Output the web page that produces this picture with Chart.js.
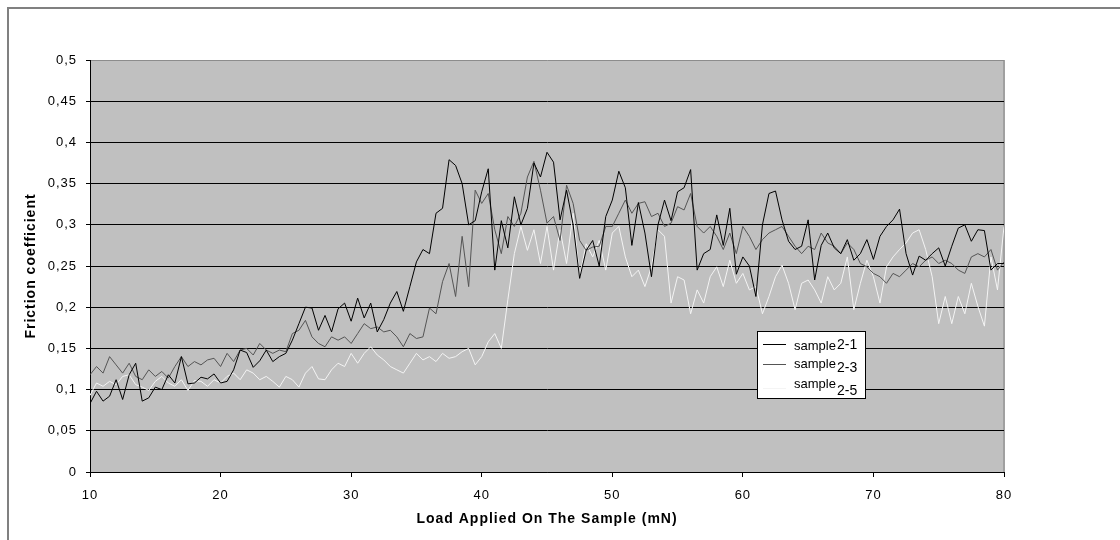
<!DOCTYPE html>
<html><head><meta charset="utf-8">
<script src="https://cdn.jsdelivr.net/npm/chart.js@4/dist/chart.umd.min.js"></script>
<style>html,body{margin:0;padding:0;background:#fff;}canvas{display:block;}</style>
</head><body>
<canvas id="c" width="1120" height="540"></canvas>
<script>
// Load applied (mN)
const loads = [
 10,10.5,11,11.5,12,12.5,13,13.5,14,14.5,
 15,15.5,16,16.5,17,17.5,18,18.5,19,19.5,
 20,20.5,21,21.5,22,22.5,23,23.5,24,24.5,
 25,25.5,26,26.5,27,27.5,28,28.5,29,29.5,
 30,30.5,31,31.5,32,32.5,33,33.5,34,34.5,
 35,35.5,36,36.5,37,37.5,38,38.5,39,39.5,
 40,40.5,41,41.5,42,42.5,43,43.5,44,44.5,
 45,45.5,46,46.5,47,47.5,48,48.5,49,49.5,
 50,50.5,51,51.5,52,52.5,53,53.5,54,54.5,
 55,55.5,56,56.5,57,57.5,58,58.5,59,59.5,
 60,60.5,61,61.5,62,62.5,63,63.5,64,64.5,
 65,65.5,66,66.5,67,67.5,68,68.5,69,69.5,
 70,70.5,71,71.5,72,72.5,73,73.5,74,74.5,
 75,75.5,76,76.5,77,77.5,78,78.5,79,79.5,
 80
];
const sample21 = [
 0.083,0.098,0.086,0.092,0.112,0.088,0.118,0.132,0.086,0.090,
 0.103,0.100,0.118,0.108,0.140,0.107,0.108,0.115,0.113,0.119,
 0.108,0.110,0.124,0.148,0.145,0.127,0.135,0.148,0.134,0.140,
 0.144,0.160,0.180,0.200,0.199,0.172,0.190,0.170,0.198,0.205,
 0.183,0.211,0.187,0.205,0.170,0.185,0.205,0.219,0.195,0.225,
 0.255,0.270,0.265,0.314,0.320,0.379,0.372,0.350,0.300,0.305,
 0.340,0.368,0.245,0.305,0.272,0.334,0.300,0.320,0.375,0.358,
 0.388,0.376,0.306,0.342,0.300,0.235,0.269,0.281,0.250,0.310,
 0.330,0.365,0.345,0.275,0.327,0.290,0.237,0.300,0.330,0.305,
 0.340,0.345,0.367,0.245,0.265,0.270,0.312,0.275,0.320,0.240,
 0.261,0.250,0.213,0.300,0.338,0.341,0.306,0.280,0.270,0.274,
 0.306,0.233,0.275,0.290,0.272,0.265,0.282,0.257,0.265,0.282,
 0.258,0.286,0.298,0.306,0.319,0.265,0.239,0.262,0.257,0.265,
 0.272,0.250,0.274,0.296,0.300,0.280,0.294,0.293,0.245,0.253,
 0.253
];
const sample23 = [
 0.118,0.128,0.120,0.140,0.130,0.120,0.132,0.116,0.112,0.124,
 0.116,0.122,0.114,0.128,0.140,0.128,0.134,0.130,0.136,0.138,
 0.128,0.144,0.134,0.148,0.150,0.142,0.156,0.148,0.144,0.148,
 0.146,0.168,0.172,0.184,0.164,0.156,0.152,0.164,0.160,0.164,
 0.156,0.168,0.180,0.174,0.176,0.170,0.172,0.164,0.152,0.168,
 0.162,0.164,0.199,0.192,0.231,0.253,0.213,0.286,0.225,0.342,
 0.326,0.338,0.294,0.265,0.310,0.298,0.314,0.358,0.377,0.342,
 0.302,0.310,0.281,0.348,0.326,0.281,0.269,0.273,0.274,0.298,
 0.298,0.314,0.330,0.314,0.326,0.328,0.310,0.314,0.298,0.302,
 0.322,0.318,0.338,0.298,0.290,0.298,0.286,0.270,0.290,0.265,
 0.298,0.286,0.270,0.282,0.290,0.294,0.298,0.286,0.274,0.265,
 0.274,0.270,0.290,0.278,0.274,0.265,0.278,0.270,0.253,0.249,
 0.241,0.237,0.229,0.241,0.237,0.245,0.253,0.249,0.257,0.261,
 0.253,0.257,0.253,0.245,0.241,0.261,0.265,0.261,0.270,0.245,
 0.255
];
const sample25 = [
 0.093,0.108,0.104,0.110,0.106,0.116,0.118,0.106,0.103,0.099,
 0.110,0.116,0.108,0.104,0.112,0.099,0.111,0.110,0.104,0.112,
 0.108,0.116,0.120,0.112,0.124,0.120,0.112,0.116,0.110,0.103,
 0.116,0.112,0.103,0.120,0.128,0.113,0.112,0.124,0.132,0.128,
 0.144,0.132,0.144,0.152,0.142,0.136,0.128,0.124,0.120,0.132,
 0.144,0.136,0.140,0.134,0.144,0.138,0.140,0.146,0.150,0.130,
 0.140,0.158,0.168,0.150,0.209,0.265,0.298,0.269,0.294,0.253,
 0.298,0.245,0.294,0.253,0.314,0.237,0.277,0.261,0.281,0.245,
 0.290,0.298,0.261,0.237,0.245,0.225,0.249,0.294,0.286,0.205,
 0.237,0.233,0.192,0.221,0.205,0.237,0.249,0.225,0.257,0.229,
 0.241,0.221,0.225,0.192,0.213,0.237,0.251,0.229,0.197,0.229,
 0.233,0.221,0.205,0.237,0.221,0.229,0.261,0.197,0.229,0.257,
 0.237,0.205,0.249,0.261,0.270,0.278,0.290,0.294,0.270,0.237,
 0.180,0.213,0.180,0.213,0.192,0.229,0.201,0.177,0.261,0.221,
 0.298
];
const seriesLabels = ['sample 2-1', 'sample 2-3', 'sample 2-5'];
const seriesColors = ['#000000', '#555555', '#f4f4f4'];
const xTitle = 'Load Applied On The Sample (mN)';
const yTitle = 'Friction coefficient';

const FONT = '"Liberation Sans", Arial, sans-serif';
Chart.defaults.font.family = FONT;
Chart.defaults.color = '#000';

const framePlugin = {
  id: 'frame',
  beforeDraw(chart) {
    const {ctx, chartArea: a} = chart;
    ctx.save();
    ctx.fillStyle = '#fff';
    ctx.fillRect(0, 0, chart.width, chart.height);
    ctx.strokeStyle = '#808080';
    ctx.lineWidth = 2;
    ctx.beginPath();
    ctx.moveTo(8, chart.height); ctx.lineTo(8, 8); ctx.lineTo(chart.width, 8);
    ctx.stroke();
    ctx.fillStyle = '#c0c0c0';
    ctx.fillRect(a.left, a.top, a.right - a.left, a.bottom - a.top);
    ctx.strokeStyle = '#a0a0a0';
    ctx.lineWidth = 2;
    ctx.beginPath();
    ctx.moveTo(a.right, a.top); ctx.lineTo(a.right, a.bottom);
    ctx.stroke();
    ctx.restore();
    ctx.letterSpacing = '1px';
  }
};

const legendPlugin = {
  id: 'boxLegend',
  afterDraw(chart) {
    const ctx = chart.ctx;
    ctx.save();
    ctx.letterSpacing = '0px';
    ctx.fillStyle = '#fff';
    ctx.fillRect(757, 331, 108, 67);
    ctx.strokeStyle = '#000';
    ctx.lineWidth = 1;
    ctx.strokeRect(757.5, 331.5, 108, 67);
    const rows = [{line: 344, word: 350, num: 349}, {line: 364, word: 368, num: 372}, {line: 388, word: 388, num: 395}];
    chart.data.datasets.forEach((ds, i) => {
      const r = rows[i];
      ctx.strokeStyle = ds.borderColor;
      ctx.lineWidth = 1;
      ctx.beginPath();
      ctx.moveTo(763, r.line + 0.5); ctx.lineTo(786, r.line + 0.5);
      ctx.stroke();
      const parts = ds.label.split(' ');
      ctx.fillStyle = '#000';
      ctx.textBaseline = 'alphabetic';
      ctx.textAlign = 'left';
      ctx.font = '13px ' + FONT;
      ctx.fillText(parts[0], 794, r.word);
      ctx.font = '14px ' + FONT;
      ctx.fillText(parts[1], 837, r.num);
    });
    ctx.restore();
  }
};

const fmt = v => String(Math.round(v * 100) / 100).replace('.', ',');

new Chart(document.getElementById('c'), {
  type: 'line',
  data: {
    datasets: seriesLabels.map((lab, k) => ({
      label: lab,
      data: loads.map((x, i) => ({x: x, y: [sample21, sample23, sample25][k][i]})),
      borderColor: seriesColors[k],
      borderWidth: 1,
      pointRadius: 0,
      tension: 0,
      fill: false
    }))
  },
  options: {
    responsive: false,
    animation: false,
    devicePixelRatio: 1,
    layout: {padding: {left: 0, top: 60, right: 116, bottom: 0}},
    plugins: {legend: {display: false}, tooltip: {enabled: false}},
    scales: {
      x: {
        type: 'linear', min: 10, max: 80,
        ticks: {stepSize: 10, color: '#000', font: {size: 13}, padding: 11, maxRotation: 0},
        grid: {drawOnChartArea: false, drawTicks: true, tickLength: 5, color: '#000'},
        border: {color: '#000', width: 1},
        title: {display: true, text: xTitle, color: '#000', font: {size: 14, weight: 'bold'}, padding: {top: 0, bottom: 12}},
        afterFit(s) { s.height = 68; }
      },
      y: {
        min: 0, max: 0.5,
        ticks: {stepSize: 0.05, callback: v => fmt(v), color: '#000', font: {size: 13}, padding: 9},
        grid: {color: c => (c.tick && c.tick.value >= 0.5 ? '#8c8c8c' : '#000'), tickColor: '#000', tickLength: 4, drawTicks: true},
        border: {color: '#000', width: 1},
        title: {display: true, text: yTitle, color: '#000', font: {size: 14, weight: 'bold'}, padding: {top: 23, bottom: 0}},
        afterFit(s) { s.width = 90; }
      }
    }
  },
  plugins: [framePlugin, legendPlugin]
});
</script>
</body></html>
